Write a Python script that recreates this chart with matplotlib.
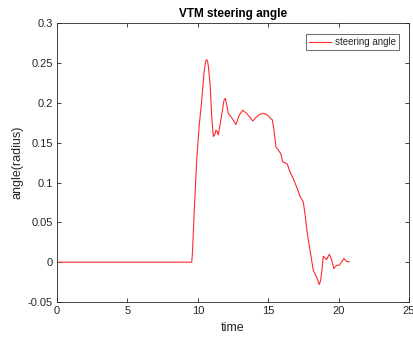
import matplotlib
matplotlib.use("Agg")
import matplotlib.pyplot as plt

# steering angle samples
time = [0, 9.57, 9.62, 9.75, 9.92, 10.10, 10.28, 10.44, 10.52, 10.58, 10.64, 10.70, 10.76,
        10.87, 10.99, 11.10, 11.20, 11.29, 11.38, 11.46, 11.65, 11.86, 11.95, 12.05, 12.17,
        12.45, 12.71, 12.95, 13.19, 13.47, 13.71, 13.90, 14.13, 14.42, 14.70, 14.94,
        15.18, 15.29, 15.41, 15.55, 15.72, 15.89, 16.03, 16.19, 16.36, 16.55, 16.78,
        17.02, 17.26, 17.49, 17.61, 17.78, 17.97, 18.20, 18.44, 18.63, 18.73, 18.84,
        18.91, 19.15, 19.34, 19.51, 19.67, 19.86, 20.05, 20.22, 20.38, 20.58, 20.76]
angle = [0, 0, 0.012, 0.065, 0.128, 0.172, 0.2035, 0.238, 0.249, 0.2535, 0.2545, 0.252, 0.245,
         0.224, 0.183, 0.158, 0.160, 0.166, 0.164, 0.160, 0.180, 0.2035, 0.206, 0.198, 0.187,
         0.1805, 0.173, 0.185, 0.191, 0.187, 0.182, 0.1775, 0.182, 0.186, 0.187, 0.185,
         0.1805, 0.179, 0.166, 0.145, 0.141, 0.1365, 0.126, 0.125, 0.123, 0.1135, 0.105,
         0.0946, 0.083, 0.0758, 0.061, 0.036, 0.015, -0.010, -0.019, -0.028, -0.0226, -0.006,
         0.0075, 0.0034, 0.010, 0.0025, -0.008, -0.0038, -0.0038, 0.0004, 0.0046, 0.001, 0.0004]

xticks = [0, 5, 10, 15, 20, 25]
yticks = [-0.05, 0, 0.05, 0.1, 0.15, 0.2, 0.25, 0.3]
ytick_labels = ["-0.05", "0", "0.05", "0.1", "0.15", "0.2", "0.25", "0.3"]

plt.rcParams['font.family'] = ['Liberation Sans', 'DejaVu Sans']
grey = (0.15, 0.15, 0.15)

fig = plt.figure(figsize=(4.14, 3.40), dpi=100)
ax = fig.add_axes([0.1377, 0.1118, 0.8502, 0.8191])

ax.plot(time, angle, color='#ff2a2a', lw=0.8, label='steering angle')

ax.set_xlim(0, 25)
ax.set_ylim(-0.05, 0.3)
ax.set_xticks(xticks)
ax.set_yticks(yticks)
ax.set_yticklabels(ytick_labels)

ax.tick_params(direction='in', length=3, width=0.6, colors=grey, labelsize=8,
               top=True, right=True, pad=3)
for s in ax.spines.values():
    s.set_color(grey)
    s.set_linewidth(0.6)

ax.set_title('VTM steering angle', fontsize=8.5, fontweight='bold', color='black', pad=5)
ax.set_xlabel('time', fontsize=9, color=grey, labelpad=4)
ax.set_ylabel('angle(radius)', fontsize=9, color=grey, labelpad=3)

leg = ax.legend(loc='upper right', fontsize=7, frameon=True, fancybox=False,
                handlelength=2.3, handletextpad=0.4, borderpad=0.3, borderaxespad=0,
                bbox_to_anchor=(0.972, 0.961))
leg.get_frame().set_edgecolor(grey)
leg.get_frame().set_linewidth(0.6)
for t in leg.get_texts():
    t.set_color(grey)

fig.savefig('out.png', dpi=100)
